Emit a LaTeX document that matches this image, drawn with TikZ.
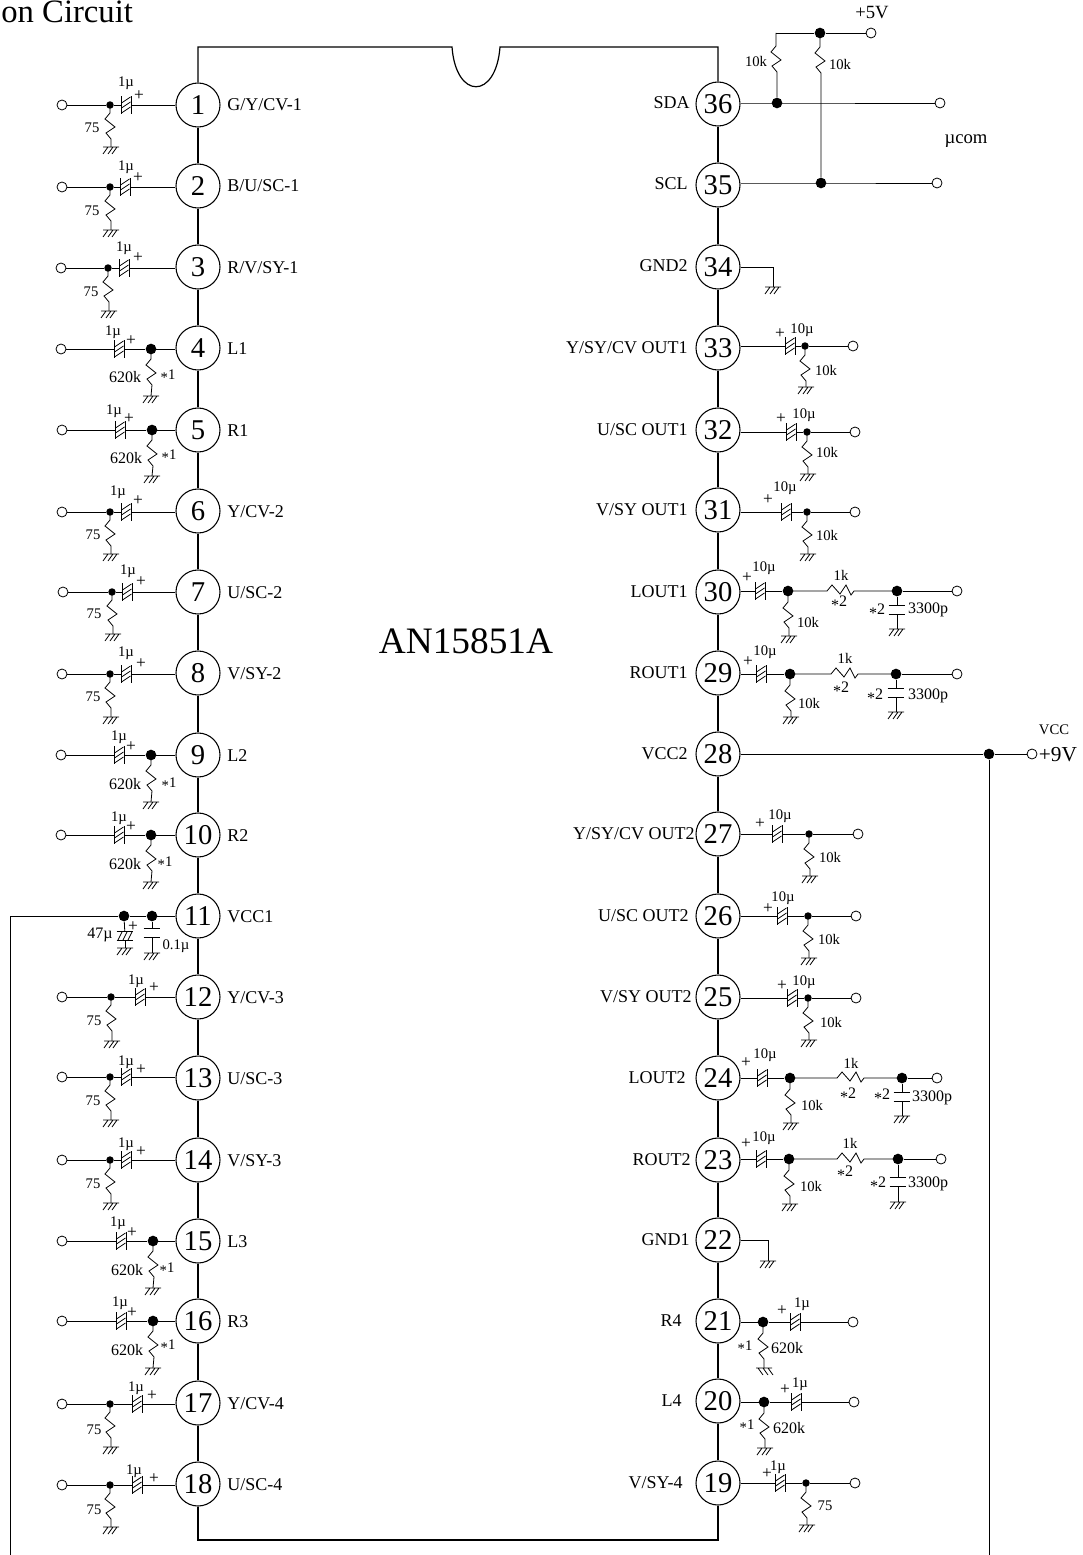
\documentclass[tikz,border=0pt]{standalone}
\usepackage{fontspec}
\setmainfont{Liberation Serif}
\newcounter{tc}
\tikzset{
  pinn/.style={circle,draw,fill=white,minimum size=33pt,inner sep=0pt,line width=0.8pt,font=\fontsize{21.5}{23}\selectfont},
  termn/.style={circle,draw,fill=white,minimum size=7.5pt,inner sep=0pt,line width=0.6pt},
  dotS/.style={circle,fill=black,minimum size=5.6pt,inner sep=0pt},
  dotL/.style={circle,fill=black,minimum size=8pt,inner sep=0pt},
  capn/.style={rectangle,minimum width=6.75pt,minimum height=12.75pt,inner sep=0pt},
  capvn/.style={rectangle,minimum width=12pt,minimum height=6pt,inner sep=0pt},
  txt/.style={inner sep=0pt,font=\fontsize{11}{13}\selectfont},
  txtb/.style={inner sep=0pt,font=\fontsize{12}{14}\selectfont},
  pluss/.style={inner sep=0pt,font=\fontsize{13}{15}\selectfont},
  pinlab/.style={inner sep=0pt,font=\fontsize{13.5}{15}\selectfont},
  biglab/.style={inner sep=0pt,font=\fontsize{14}{16}\selectfont},
  chip/.style={line width=0.9pt},
}
\newcommand\aster{\raisebox{-0.22em}{*}}
\newcommand\lab[3]{\stepcounter{tc}\node[txt] (t\arabic{tc}) at (#1,#2) {#3};}
\newcommand\labb[3]{\stepcounter{tc}\node[txtb] (t\arabic{tc}) at (#1,#2) {#3};}
\newcommand\plu[2]{\stepcounter{tc}\node[pluss] (t\arabic{tc}) at (#1,#2) {+};}
\newcommand\gnd[3]{\coordinate (#1) at (#2,#3);
  \draw[shift={(#1)}] (-8,0) -- (8,0) (-3,0) -- (-8,7) (2,0) -- (-3,7) (6,0) -- (1,7);}
\newcommand\gndR[3]{\coordinate (#1) at (#2,#3);
  \draw[shift={(#1)}] (-8,0) -- (8,0) (-6,0) -- (-1,7) (-1,0) -- (4,7) (4,0) -- (9,7);}
\newcommand\capH[3]{\node[capn] (#1) at (#2,#3) {};
  \draw (#1.north west) -- (#1.south west) (#1.north east) -- (#1.south east);
  \draw[shift={(#1.center)}] (-4.5,-2) -- (4.5,-8) (-4.5,3) -- (4.5,-3) (-4.5,8) -- (4.5,2);}
\newcommand\capV[3]{\node[capvn] (#1) at (#2,#3) {};
  \draw (#1.north west) -- (#1.north east) (#1.south west) -- (#1.south east);}
\newcommand\vres[3]{\draw (#1.center) -- ++(0,#2) -- ++(-5,6) -- ++(10,8) -- ++(-9,6) -- ++(5,6) -- (#3);}
% left inputs: n y term dot cap ground
\newcommand\inA[6]{\node[termn] (T#1) at (#3,#2) {};
  \node[dotS] (D#1) at (#4,#2) {};
  \capH{C#1}{#5}{#2}
  \draw (T#1) -- (D#1) -- (C#1);
  \draw (C#1) -- (C#1 -| P#1.west);
  \gnd{G#1}{#4+1}{#6}
  \vres{D#1}{8}{G#1}}
\newcommand\inB[6]{\node[termn] (T#1) at (#3,#2) {};
  \node[dotL] (D#1) at (#4,#2) {};
  \capH{C#1}{#5}{#2}
  \draw (T#1) -- (C#1) -- (D#1);
  \draw (D#1.center) -- (D#1 -| P#1.west);
  \gnd{G#1}{#4}{#6}
  \vres{D#1}{10}{G#1}}
% right outputs: n y cap dot term ground
\newcommand\outA[6]{\node[termn] (T#1) at (#5,#2) {};
  \node[dotS] (D#1) at (#4,#2) {};
  \capH{C#1}{#3}{#2}
  \draw (C#1 -| P#1.east) -- (C#1);
  \draw (C#1) -- (D#1) -- (T#1);
  \gnd{G#1}{#4+1}{#6}
  \vres{D#1}{9}{G#1}}
% n y cap dot ground resStart dot2 term
\newcommand\outB[8]{\node[termn] (T#1) at (#8,#2) {};
  \node[dotL] (D#1) at (#4,#2) {};
  \node[dotL] (E#1) at (#7,#2) {};
  \coordinate (R#1) at (#6,#2);
  \capH{C#1}{#3}{#2}
  \draw (C#1 -| P#1.east) -- (C#1);
  \draw (C#1) -- (D#1);
  \gnd{G#1}{#4+1}{#5}
  \vres{D#1}{11}{G#1}
  \draw (D#1.center) -- (R#1) -- ++(5,-6) -- ++(8,9) -- ++(6,-9) -- ++(5,10) -- ++(3,-4) -- (E#1.center);
  \draw (E#1) -- (T#1);}
% shunt capacitor below E: n x cy gy
\newcommand\shunt[4]{\capV{U#1}{#2}{#3}
  \gnd{H#1}{#2}{#4}
  \draw (E#1) -- (U#1);
  \draw (U#1) -- (H#1);}
% n y cap dot term ground, pin 21/20 style
\newcommand\outC[6]{\node[termn] (T#1) at (#5,#2) {};
  \node[dotL] (D#1) at (#4,#2) {};
  \capH{C#1}{#3}{#2}
  \draw (D#1 -| P#1.east) -- (D#1.center);
  \draw (D#1) -- (C#1) -- (T#1);
  \coordinate (G#1) at (#4+1,#6);
  \vres{D#1}{11}{G#1}}
\begin{document}
\begin{tikzpicture}[x=0.75pt,y=-0.75pt,line width=0.6pt]
\useasboundingbox (0,0) rectangle (1082,1555);
\node[inner sep=0pt,anchor=base west,font=\fontsize{24.5}{26}\selectfont] (title) at (1,23) {on Circuit};
\node[inner sep=0pt,font=\fontsize{28}{30}\selectfont] (part) at (466,641) {AN15851A};
% pins
\foreach \n/\y in {1/105,2/186,3/267,4/348,5/430,6/511,7/592,8/673,9/755,10/835,11/916,12/997,13/1078,14/1160,15/1241,16/1321,17/1403,18/1484}
  {\node[pinn] (P\n) at (198,\y) {\n};}
\foreach \n/\y in {36/104,35/185,34/267,33/348,32/430,31/510,30/592,29/673,28/754,27/834,26/916,25/997,24/1078,23/1160,22/1240,21/1321,20/1401,19/1483}
  {\node[pinn] (P\n) at (718,\y) {\n};}
% chip outline
\coordinate (a1) at (198,47);\coordinate (a2) at (452,47);\coordinate (a3) at (500,47);\coordinate (a4) at (718,47);
\coordinate (b1) at (198,1540);\coordinate (b2) at (718,1540);
\draw[chip] (P1) -- (a1) -- (a2) .. controls (456,100) and (496,100) .. (a3) -- (a4) -- (P36);
\draw[chip] (P18) -- (b1) -- (b2) -- (P19);
\foreach \p/\q in {1/2,2/3,3/4,4/5,5/6,6/7,7/8,8/9,9/10,10/11,11/12,12/13,13/14,14/15,15/16,16/17,17/18,19/20,20/21,21/22,22/23,23/24,24/25,25/26,26/27,27/28,28/29,29/30,30/31,31/32,32/33,33/34,34/35,35/36}
  {\draw[chip] (P\p) -- (P\q);}
% pin labels
\foreach \n/\t in {1/{G/Y/CV-1},2/{B/U/SC-1},3/{R/V/SY-1},4/{L1},5/{R1},6/{Y/CV-2},7/{U/SC-2},8/{V/SY-2},9/{L2},10/{R2},11/{VCC1},12/{Y/CV-3},13/{U/SC-3},14/{V/SY-3},15/{L3},16/{R3},17/{Y/CV-4},18/{U/SC-4}}
  {\node[pinlab,anchor=base west] (L\n) at ([xshift=21.75pt,yshift=-4.5pt]P\n.center) {\t};}
\foreach \n/\e/\t in {36/690/{SDA},35/688/{SCL},34/688/{GND2},33/688/{Y/SY/CV OUT1},32/688/{U/SC OUT1},31/688/{V/SY OUT1},30/688/{LOUT1},29/688/{ROUT1},28/688/{VCC2},27/695/{Y/SY/CV OUT2},26/689/{U/SC OUT2},25/692/{V/SY OUT2},24/686/{LOUT2},23/691/{ROUT2},22/690/{GND1},21/682/{R4},20/682/{L4},19/683/{V/SY-4}}
  {\node[pinlab,anchor=base east] (L\n) at ([yshift=-3.75pt]\e,0 |- P\n.center) {\t};}
% left side
\inA{1}{105}{62}{110}{126}{147}  \lab{126}{83}{1µ}\plu{139}{96}\lab{92}{128}{75}
\inA{2}{187}{62}{110}{125}{230}  \lab{126}{167}{1µ}\plu{138}{178}\lab{92}{211}{75}
\inA{3}{268}{61}{108}{124}{311}  \lab{124}{248}{1µ}\plu{138}{258}\lab{91}{292}{75}
\inB{4}{349}{61}{151}{119}{396}  \lab{113}{332}{1µ}\plu{131}{341}\labb{125}{377}{620k}\lab{168}{376}{\aster1}
\inB{5}{430}{62}{152}{120}{476}  \lab{114}{411}{1µ}\plu{129}{419}\labb{126}{458}{620k}\lab{169}{456}{\aster1}
\inA{6}{512}{62}{110}{126}{554}  \lab{118}{492}{1µ}\plu{138}{501}\lab{93}{535}{75}
\inA{7}{592}{63}{112}{127}{634}  \lab{128}{571}{1µ}\plu{141}{582}\lab{94}{614}{75}
\inA{8}{674}{62}{110}{126}{717}  \lab{126}{653}{1µ}\plu{141}{664}\lab{93}{697}{75}
\inB{9}{755}{61}{151}{119}{802}  \lab{119}{737}{1µ}\plu{131}{747}\labb{125}{784}{620k}\lab{169}{784}{\aster1}
\inB{10}{835}{61}{151}{119}{882} \lab{119}{818}{1µ}\plu{131}{827}\labb{125}{864}{620k}\lab{165}{863}{\aster1}
% pin 11
\node[dotL] (D11b) at (152,916) {};
\node[dotL] (D11a) at (124,916) {};
\coordinate (V1) at (10,916);\coordinate (V2) at (10,1555);
\draw (V2) -- (V1) -- (D11a) -- (D11b);
\draw (D11b.center) -- (D11b -| P11.west);
\capV{U11a}{125}{936}
\capV{U11b}{152}{933}
\gnd{G11a}{125}{948}
\gnd{G11b}{152}{953}
\draw (D11a) -- (U11a);\draw (U11a) -- (G11a);
\draw (D11b) -- (U11b);\draw (U11b) -- (G11b);
\draw[shift={(U11a.center)}] (-7,4) -- (-3,-4) (-2,4) -- (2,-4) (3,4) -- (7,-4);
\plu{133}{927}\labb{100}{935}{47µ}\lab{176}{946}{0.1µ}
\inA{12}{997}{62}{111}{140}{1041}  \lab{136}{981}{1µ}\plu{154}{988}\lab{94}{1021}{75}
\inA{13}{1077}{62}{110}{126}{1120} \lab{126}{1062}{1µ}\plu{141}{1070}\lab{93}{1101}{75}
\inA{14}{1160}{62}{110}{126}{1203} \lab{126}{1144}{1µ}\plu{141}{1152}\lab{93}{1184}{75}
\inB{15}{1241}{62}{153}{121}{1288} \lab{118}{1223}{1µ}\plu{132}{1233}\labb{127}{1270}{620k}\lab{167}{1269}{\aster1}
\inB{16}{1321}{62}{153}{121}{1368} \lab{120}{1303}{1µ}\plu{132}{1313}\labb{127}{1350}{620k}\lab{168}{1346}{\aster1}
\inA{17}{1404}{62}{110}{137}{1447} \lab{136}{1388}{1µ}\plu{152}{1396}\lab{94}{1430}{75}
\inA{18}{1485}{62}{110}{137}{1527} \lab{134}{1471}{1µ}\plu{154}{1479}\lab{94}{1510}{75}
% top right
\node[termn] (T5V) at (871,33) {};
\node[dotL] (D5V) at (820,33) {};
\coordinate (K) at (776,33);
\node[dotL] (D36) at (777,103) {};
\node[dotL] (D35) at (821,183) {};
\node[termn] (T36) at (940,103) {};
\node[termn] (T35) at (937,183) {};
\draw (K) -- (D5V) -- (T5V);
\vres{K}{13}{D36}
\vres{D5V}{14}{D35}
\draw (D36 -| P36.east) -- (D36.center) -- (T36);
\draw (D35 -| P35.east) -- (D35.center) -- (T35);
\stepcounter{tc}\node[biglab] (t5v) at (872,13) {+5V};
\stepcounter{tc}\node[biglab] (tucom) at (966,141) {µcom};
\lab{756}{61}{10k}\lab{840}{64}{10k}
% pin 34
\coordinate (W34) at (773,267);
\gnd{G34}{773}{287}
\draw (P34) -- (W34) -- (G34);
% outputs
\outA{33}{346}{790}{805}{853}{387} \lab{802}{330}{10µ}\plu{780}{334}\lab{826}{370}{10k}
\outA{32}{432}{791}{807}{855}{474} \lab{804}{415}{10µ}\plu{781}{419}\lab{827}{452}{10k}
\outA{31}{512}{786}{807}{855}{554} \lab{785}{488}{10µ}\plu{768}{500}\lab{827}{535}{10k}
\outB{30}{591}{760}{788}{636}{827}{897}{957} \lab{764}{568}{10µ}\plu{747}{578}\lab{808}{622}{10k}\lab{841}{575}{1k}\labb{839}{603}{\aster2}
\shunt{30}{897}{610}{629} \labb{877}{611}{\aster2}\labb{928}{610}{3300p}
\outB{29}{674}{761}{790}{717}{831}{896}{957} \lab{765}{652}{10µ}\plu{748}{662}\lab{809}{703}{10k}\lab{845}{658}{1k}\labb{841}{689}{\aster2}
\shunt{29}{896}{693}{712} \labb{875}{696}{\aster2}\labb{928}{696}{3300p}
% pin 28
\node[termn] (T28) at (1032,754) {};
\node[dotL] (D28) at (989,754) {};
\coordinate (V3) at (989,1555);
\draw (P28) -- (D28) -- (T28);
\draw (D28) -- (V3);
\lab{1054}{730}{VCC}
\stepcounter{tc}\node[inner sep=0pt,font=\fontsize{16}{18}\selectfont] (t9v) at (1058,755) {+9V};
\outA{27}{834}{777}{809}{858}{876} \lab{780}{816}{10µ}\plu{760}{824}\lab{830}{857}{10k}
\outA{26}{916}{782}{808}{856}{958} \lab{783}{898}{10µ}\plu{768}{909}\lab{829}{939}{10k}
\outA{25}{998}{792}{808}{856}{1040} \lab{804}{982}{10µ}\plu{782}{986}\lab{831}{1022}{10k}
\outB{24}{1078}{762}{790}{1123}{837}{902}{937} \lab{765}{1055}{10µ}\plu{746}{1063}\lab{812}{1105}{10k}\lab{851}{1063}{1k}\labb{848}{1095}{\aster2}
\shunt{24}{902}{1097}{1116} \labb{882}{1096}{\aster2}\labb{932}{1098}{3300p}
\outB{23}{1159}{761}{789}{1204}{837}{898}{941} \lab{764}{1138}{10µ}\plu{746}{1144}\lab{811}{1186}{10k}\lab{850}{1143}{1k}\labb{845}{1173}{\aster2}
\shunt{23}{898}{1182}{1202} \labb{878}{1184}{\aster2}\labb{928}{1184}{3300p}
% pin 22
\coordinate (W22) at (768,1240);
\gnd{G22}{768}{1261}
\draw (P22) -- (W22) -- (G22);
% pins 21,20,19
\outC{21}{1322}{795}{763}{853}{1368} \gndR{H21}{764}{1368} \lab{802}{1304}{1µ}\plu{782}{1311}\lab{745}{1347}{\aster1}\labb{787}{1348}{620k}
\outC{20}{1402}{796}{764}{854}{1448} \gnd{H20}{765}{1448} \lab{800}{1384}{1µ}\plu{785}{1390}\lab{747}{1426}{\aster1}\labb{789}{1428}{620k}
\outA{19}{1483}{780}{806}{855}{1525} \lab{778}{1467}{1µ}\plu{767}{1474}\lab{825}{1506}{75}
\end{tikzpicture}
\end{document}
